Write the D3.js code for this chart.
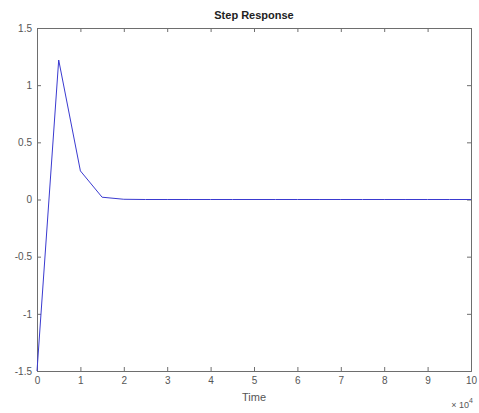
<!DOCTYPE html>
<html>
<head>
<meta charset="utf-8">
<script src="https://cdn.jsdelivr.net/npm/d3@7"></script>
<style>
body { margin: 0; background: #fff; }
text { font-family: "Liberation Sans", Arial, sans-serif; }
</style>
</head>
<body>
<div id="chart"></div>
<script>
// step response samples (time in seconds, shown as x 10^4)
const times = [0, 5000, 10000, 15000, 20000, 25000, 30000, 35000, 40000, 45000, 50000,
  55000, 60000, 65000, 70000, 75000, 80000, 85000, 90000, 95000, 100000];
const response = [-1.5, 1.22, 0.25, 0.02, 0.002, 0, 0, 0, 0, 0, 0,
  0, 0, 0, 0, 0, 0, 0, 0, 0, 0];
const xTicks = [0, 1, 2, 3, 4, 5, 6, 7, 8, 9, 10];
const yTicks = [-1.5, -1, -0.5, 0, 0.5, 1, 1.5];

const w = 479, h = 413;
const m = {left: 37, right: 8, top: 28, bottom: 42};

const svg = d3.select("#chart").append("svg")
  .attr("width", w).attr("height", h);

const x = d3.scaleLinear().domain([0, 10]).range([m.left, w - m.right]);
const y = d3.scaleLinear().domain([-1.5, 1.5]).range([h - m.bottom, m.top]);

const axisCol = "#6e6e6e";
const lblCol = "#555";

// axes with inward ticks, box style
const gBottom = svg.append("g")
  .attr("transform", "translate(0," + (h - m.bottom) + ")")
  .call(d3.axisBottom(x).tickValues(xTicks).tickSize(-4).tickPadding(6).tickFormat(d3.format("d")));
const gTop = svg.append("g")
  .attr("transform", "translate(0," + m.top + ")")
  .call(d3.axisTop(x).tickValues(xTicks).tickSize(-4).tickFormat(""));
const gLeft = svg.append("g")
  .attr("transform", "translate(" + m.left + ",0)")
  .call(d3.axisLeft(y).tickValues(yTicks).tickSize(-4).tickPadding(5).tickFormat(d => d));
const gRight = svg.append("g")
  .attr("transform", "translate(" + (w - m.right) + ",0)")
  .call(d3.axisRight(y).tickValues(yTicks).tickSize(-4).tickFormat(""));

[gBottom, gTop, gLeft, gRight].forEach(g => {
  g.selectAll("path,line").attr("stroke", axisCol);
  g.selectAll("text").attr("fill", lblCol).style("font-size", "10px");
});

// line
const line = d3.line()
  .x((d, i) => x(times[i] / 10000))
  .y(d => y(d));

svg.append("path")
  .datum(response)
  .attr("fill", "none")
  .attr("stroke", "#3a3ad0")
  .attr("stroke-width", 1)
  .attr("d", line);

// title and labels
svg.append("text")
  .attr("x", (m.left + w - m.right) / 2)
  .attr("y", 19)
  .attr("text-anchor", "middle")
  .style("font-size", "11px")
  .style("font-weight", "bold")
  .attr("fill", "#222")
  .text("Step Response");

svg.append("text")
  .attr("x", (m.left + w - m.right) / 2)
  .attr("y", 401)
  .attr("text-anchor", "middle")
  .style("font-size", "11px")
  .attr("fill", lblCol)
  .text("Time");

const exp = svg.append("text")
  .attr("x", w - m.right + 2)
  .attr("y", 408)
  .attr("text-anchor", "end")
  .style("font-size", "9px")
  .attr("fill", lblCol);
exp.append("tspan").text("\u00d7 10");
exp.append("tspan").attr("dy", -5).style("font-size", "7px").text("4");
</script>
</body>
</html>
